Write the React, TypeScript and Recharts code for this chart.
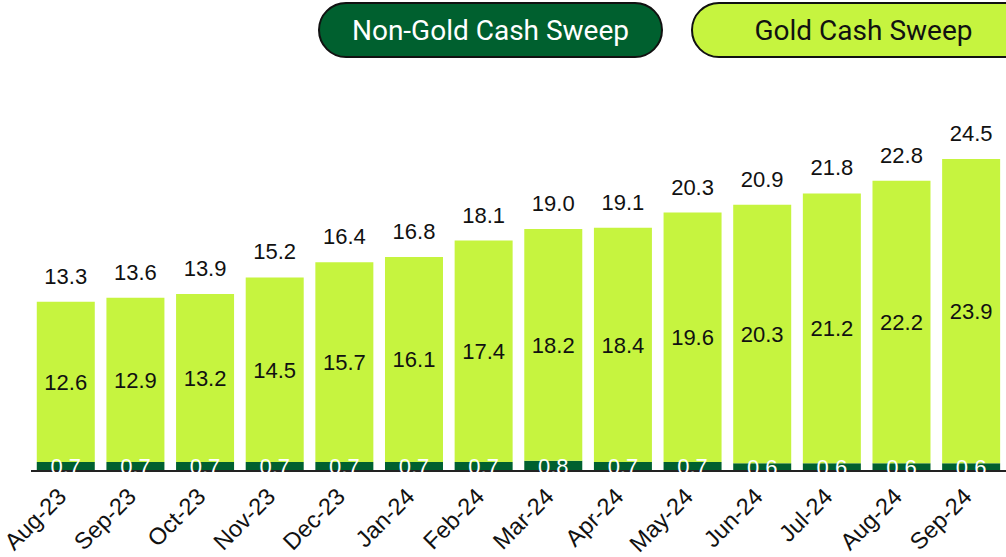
import React from 'react'
import { BarChart, Bar, XAxis, YAxis, LabelList } from 'recharts'

const months = ['Aug-23', 'Sep-23', 'Oct-23', 'Nov-23', 'Dec-23', 'Jan-24', 'Feb-24', 'Mar-24', 'Apr-24', 'May-24', 'Jun-24', 'Jul-24', 'Aug-24', 'Sep-24']
const nonGold = [0.7, 0.7, 0.7, 0.7, 0.7, 0.7, 0.7, 0.8, 0.7, 0.7, 0.6, 0.6, 0.6, 0.6]
const gold = [12.6, 12.9, 13.2, 14.5, 15.7, 16.1, 17.4, 18.2, 18.4, 19.6, 20.3, 21.2, 22.2, 23.9]
const totals = [13.3, 13.6, 13.9, 15.2, 16.4, 16.8, 18.1, 19.0, 19.1, 20.3, 20.9, 21.8, 22.8, 24.5]

const DARK = '#00602f'
const LIGHT = '#c6f43f'
const FONT = '"Liberation Sans", Arial, sans-serif'

const data = months.map((m, i) => ({
  month: m,
  nonGold: nonGold[i],
  gold: gold[i],
  total: totals[i]
}))

const fmt = (v: any) => Number(v).toFixed(1)

function MonthTick({ x, y, payload }: any) {
  return (
    <text
      x={x + 2}
      y={y + 27}
      transform={`rotate(-45, ${x + 2}, ${y + 27})`}
      textAnchor="end"
      fontSize={23.5}
      fontFamily={FONT}
      fill="#111"
    >
      {payload.value}
    </text>
  )
}

// legend pills across the top
function Pill({ bg, color, left, label }: any) {
  return (
    <div
      style={{
        position: 'absolute',
        left,
        top: 2,
        width: 345,
        height: 56,
        boxSizing: 'border-box',
        border: '2px solid #111',
        borderRadius: 28,
        background: bg,
        color,
        fontFamily: 'Roboto, sans-serif',
        fontSize: 28,
        display: 'flex',
        alignItems: 'center',
        justifyContent: 'center'
      }}
    >
      {label}
    </div>
  )
}

export default function App() {
  return (
    <div style={{ position: 'absolute', left: 0, top: 0, width: 1006, height: 557, overflow: 'hidden', background: '#fff' }}>
      <BarChart
        width={1006}
        height={557}
        data={data}
        margin={{ top: 89, right: 0, left: 31, bottom: 30 }}
        barCategoryGap="8.3%"
      >
        <YAxis hide domain={[0, 30]} />
        <XAxis
          dataKey="month"
          height={56}
          interval={0}
          tickLine={false}
          tickSize={0}
          tickMargin={0}
          axisLine={{ stroke: '#222', strokeWidth: 2 }}
          tick={<MonthTick />}
        />
        <Bar dataKey="nonGold" stackId="a" fill={DARK} isAnimationActive={false}>
          <LabelList dataKey="nonGold" position="center" formatter={fmt} fill="#fff" fontSize={22} fontFamily={FONT} />
        </Bar>
        <Bar dataKey="gold" stackId="a" fill={LIGHT} isAnimationActive={false}>
          <LabelList dataKey="gold" position="center" formatter={fmt} fill="#111" fontSize={22} fontFamily={FONT} />
          <LabelList dataKey="total" position="top" offset={18} formatter={fmt} fill="#111" fontSize={22} fontFamily={FONT} />
        </Bar>
      </BarChart>
      <Pill bg={DARK} color="#fff" left={318} label="Non-Gold Cash Sweep" />
      <Pill bg={LIGHT} color="#111" left={691} label="Gold Cash Sweep" />
    </div>
  )
}
